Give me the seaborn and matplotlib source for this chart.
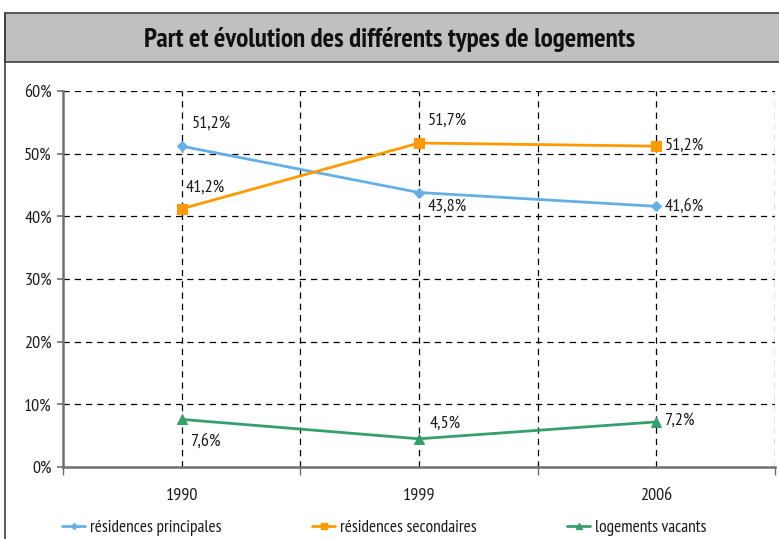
import matplotlib
matplotlib.use("Agg")
import matplotlib.pyplot as plt
import seaborn as sns
import pandas as pd
from matplotlib.patches import Rectangle
from matplotlib.lines import Line2D
from matplotlib import font_manager

sns.set_theme(style="white")
names = {f.name for f in font_manager.fontManager.ttflist}
cond = "PT Sans Narrow" if "PT Sans Narrow" in names else "Fira Sans Condensed"
plt.rcParams['font.family'] = [cond, 'DejaVu Sans']

years = ["1990", "1999", "2006"]
principales = [51.2, 43.8, 41.6]
secondaires = [41.2, 51.7, 51.2]
vacants = [7.6, 4.5, 7.2]
series_names = ["résidences principales", "résidences secondaires", "logements vacants"]
labels = [["51,2%", "43,8%", "41,6%"], ["41,2%", "51,7%", "51,2%"], ["7,6%", "4,5%", "7,2%"]]

colors = ["#62b0e6", "#ff9900", "#35a06c"]
markers = ["D", "s", "^"]
msizes = [5, 7, 7]

rows = []
for name, vals in zip(series_names, [principales, secondaires, vacants]):
    for i, v in enumerate(vals):
        rows.append({"pos": i, "val": v, "serie": name})
df = pd.DataFrame(rows)

FS = 13

fig = plt.figure(figsize=(7.79, 5.39), dpi=100)
ax = fig.add_axes([63/779, 1-467/539, (775-63)/779, (467-91)/539])

for name, c, m, ms in zip(series_names, colors, markers, msizes):
    sub = df[df.serie == name]
    sns.lineplot(data=sub, x="pos", y="val", color=c, marker=m, markersize=ms,
                 markeredgecolor=c, linewidth=2, ax=ax, legend=False)

ax.set_xlim(-0.5, 2.5)
ax.set_ylim(0, 60)
ax.set_xticks(range(3))
ax.set_xticklabels(years, fontsize=FS, color="#1a1a1a")
ax.set_yticks(range(0, 61, 10))
ax.set_yticklabels([f"{v}%" for v in range(0, 61, 10)], fontsize=FS, color="#1a1a1a")
ax.set_xlabel("")
ax.set_ylabel("")
ax.tick_params(axis="x", length=0, pad=15)
ax.tick_params(axis="y", length=4, width=1.2, color="#707070", left=True, pad=4)
ax.set_xticks([-0.5, 0.5, 1.5, 2.5], minor=True)
ax.tick_params(axis="x", which="minor", length=6, width=1, color="#707070", bottom=True)

for y in range(10, 61, 10):
    ax.axhline(y, color="black", lw=0.9, ls=(0, (5, 4)), zorder=0)
for x in [0, 0.5, 1, 1.5, 2, 2.5]:
    ax.axvline(x, color="black", lw=0.9, ls=(0, (5, 4)), zorder=0)

for s in ["top", "right"]:
    ax.spines[s].set_visible(False)
for s in ["left", "bottom"]:
    ax.spines[s].set_color("#707070")
    ax.spines[s].set_linewidth(1.8)

# data labels (offsets in points)
offs = [[(7, 16.5), (6, -10), (6, 0)],
        [(3, 15), (6, 16), (6, 0)],
        [(7, -16), (8, 11), (6, 0.5)]]
for vals, labs, off in zip([principales, secondaires, vacants], labels, offs):
    for i, (v, l, o) in enumerate(zip(vals, labs, off)):
        ax.annotate(l, (i, v), xytext=o, textcoords="offset points",
                    ha="left", va="center", fontsize=FS, color="#1a1a1a")

# title bar
fig.patches.append(Rectangle((5/779, 1-62/539), 1, (62-13)/539, transform=fig.transFigure,
                             facecolor="#c0c0c0", edgecolor="#404040", lw=1.2, zorder=0))
fig.lines.append(Line2D([5/779, 5/779], [0, 1-13/539], transform=fig.transFigure,
                        color="#404040", lw=1.2))
fig.text(390/779, 1-40/539, "Part et évolution des différents types de logements",
         ha="center", va="center", fontsize=19.5, fontweight="bold", color="#111111")

handles = [Line2D([], [], color=c, marker=m, markersize=ms-2, lw=2) for c, m, ms in zip(colors, markers, msizes)]
for h, n, x0 in zip(handles, series_names, [62, 312, 567]):
    fig.legend([h], [n], loc="center left", bbox_to_anchor=(x0/779, 1-528/539),
               frameon=False, fontsize=12.5, handlelength=1.35, handletextpad=0.25,
               borderaxespad=0, borderpad=0, labelcolor="#1a1a1a")

fig.savefig("out.png", dpi=100)
